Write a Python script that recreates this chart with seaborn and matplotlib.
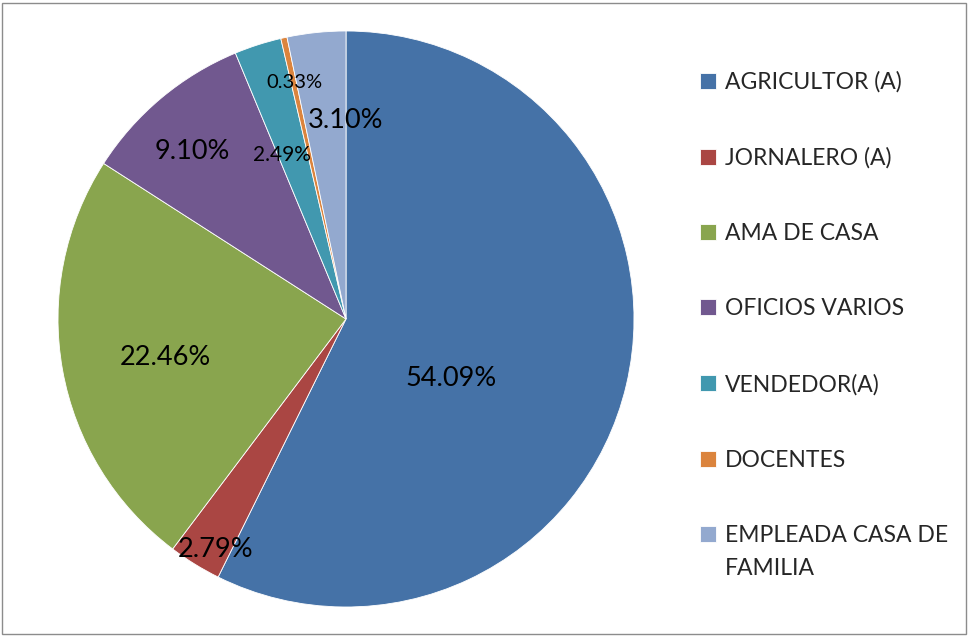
import numpy as np
import matplotlib
matplotlib.use("Agg")
import matplotlib.pyplot as plt
import seaborn as sns
from matplotlib.patches import Rectangle

categories = ["AGRICULTOR (A)", "JORNALERO (A)", "AMA DE CASA", "OFICIOS VARIOS",
              "VENDEDOR(A)", "DOCENTES", "EMPLEADA CASA DE"]
category_wrap = "FAMILIA"  # second line of the last legend entry
values = [54.09, 2.79, 22.46, 9.10, 2.49, 0.33, 3.10]
labels = ["54.09%", "2.79%", "22.46%", "9.10%", "2.49%", "0.33%", "3.10%"]
colors = ["#4572A7", "#AA4643", "#89A54E", "#71588F", "#4198AF", "#DB843D", "#93A9CF"]

# label placement: radius fraction, angle clockwise from top, font size
label_dist = [0.42, 0.92, 0.64, 0.79, 0.61, 0.84, 0.69]
label_angle = [119.3, 209.4, 257.8, 317.5, 338.7, 347.6, 0.0]
label_size = [19.5, 19.5, 19.5, 19.5, 15, 14.5, 19.5]

sns.set_theme(style="white")
plt.rcParams["font.family"] = ["Lato", "DejaVu Sans"]

fig = plt.figure(figsize=(9.7, 6.36), dpi=100)
ax = fig.add_axes([0.0598, 0.0456, 576 / 970, 576 / 636])

wedges, _ = ax.pie(values, colors=colors, startangle=90, counterclock=False,
                   wedgeprops=dict(edgecolor="white", linewidth=0.6))
ax.set_xlim(-1, 1)
ax.set_ylim(-1, 1)
ax.set_aspect("equal")

for i in range(len(labels)):
    ang = np.deg2rad(90 - label_angle[i])
    d = label_dist[i]
    ax.text(d * np.cos(ang), d * np.sin(ang), labels[i], ha="center", va="center",
            fontsize=label_size[i], color="black")

leg = fig.legend(wedges, categories, loc="upper left", bbox_to_anchor=(0.712, 0.902),
                 frameon=False, fontsize=16.5, handlelength=0.7, handleheight=0.7,
                 handletextpad=0.4, labelspacing=2.37, borderaxespad=0)

# wrapped second line under the last entry
fig.canvas.draw()
last = leg.get_texts()[-1]
bb = last.get_window_extent(fig.canvas.get_renderer())
fig.text(bb.x0 / fig.bbox.width, (bb.y0 - 33) / fig.bbox.height, category_wrap,
         fontsize=16.5, ha="left", va="bottom", color=last.get_color())

fig.add_artist(Rectangle((0.002, 0.003), 0.994, 0.992, transform=fig.transFigure,
                         fill=False, edgecolor="#8c8c8c", linewidth=1.0))

fig.savefig("out.png", dpi=100)
